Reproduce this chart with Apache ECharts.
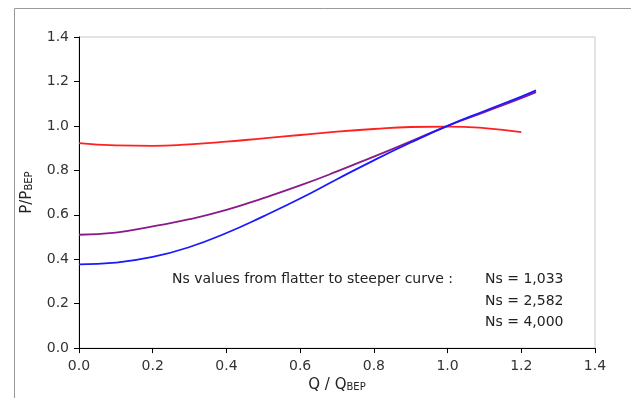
<!DOCTYPE html>
<html>
<head>
<meta charset="utf-8">
<script src="https://cdn.jsdelivr.net/npm/echarts@6/dist/echarts.min.js"></script>
<style>
html,body{margin:0;padding:0;background:#fff;}
#c{width:631px;height:398px;}
</style>
</head>
<body>
<div id="c"></div>
<script>
// Q/QBEP sample positions
const qRed = [0, 0.1, 0.2, 0.3, 0.4, 0.5, 0.6, 0.7, 0.8, 0.9, 1.0, 1.1, 1.2];
const qOther = [0, 0.1, 0.2, 0.3, 0.4, 0.5, 0.6, 0.7, 0.8, 0.9, 1.0, 1.1, 1.2, 1.24];
// P/PBEP values
const ns1033 = [0.922, 0.912, 0.910, 0.917, 0.929, 0.944, 0.959, 0.974, 0.986, 0.995, 0.997, 0.990, 0.972];
const ns2582 = [0.510, 0.520, 0.548, 0.580, 0.622, 0.675, 0.732, 0.795, 0.862, 0.930, 1.000, 1.062, 1.125, 1.152];
const ns4000 = [0.377, 0.385, 0.410, 0.455, 0.518, 0.593, 0.673, 0.760, 0.845, 0.925, 1.000, 1.067, 1.132, 1.160];
const xTicks = [0, 0.2, 0.4, 0.6, 0.8, 1.0, 1.2, 1.4];
const yTicks = [0, 0.2, 0.4, 0.6, 0.8, 1.0, 1.2, 1.4];
const nsLabels = ['Ns = 1,033', 'Ns = 2,582', 'Ns = 4,000'];
const noteText = 'Ns values from flatter to steeper curve :';

const pairs = (xs, ys) => xs.map((x, i) => [x, ys[i]]);
const FONT = 'DejaVu Sans';

const chart = echarts.init(document.getElementById('c'), null, {renderer: 'canvas'});
const axisCommon = {
  type: 'value',
  splitLine: {show: false},
  axisLine: {show: true, lineStyle: {color: '#000', width: 1}},
  axisTick: {show: true, length: 5, lineStyle: {color: '#000'}},
  axisLabel: {fontFamily: FONT, fontSize: 14, color: '#333', formatter: v => v.toFixed(1)}
};
const titleRich = {
  a: {fontFamily: FONT, fontSize: 15, color: '#222'},
  b: {fontFamily: FONT, fontSize: 10, color: '#222', padding: [4, 0, 0, 0]}
};
chart.setOption({
  animation: false,
  backgroundColor: '#fff',
  grid: {left: 79, top: 37, right: 36, bottom: 48, show: true, borderColor: '#c8c8c8', borderWidth: 1},
  xAxis: Object.assign({}, axisCommon, {
    min: xTicks[0], max: xTicks[xTicks.length - 1], interval: 0.2,
    name: '{a|Q / Q}{b|BEP}', nameLocation: 'middle', nameGap: 28,
    nameTextStyle: {rich: titleRich},
    axisLabel: Object.assign({}, axisCommon.axisLabel, {margin: 11})
  }),
  yAxis: Object.assign({}, axisCommon, {
    min: yTicks[0], max: yTicks[yTicks.length - 1], interval: 0.2,
    name: '{a|P/P}{b|BEP}', nameLocation: 'middle', nameGap: 44, nameRotate: 90,
    nameTextStyle: {rich: titleRich},
    axisLabel: Object.assign({}, axisCommon.axisLabel, {margin: 10})
  }),
  series: [
    {type: 'line', name: nsLabels[0], data: pairs(qRed, ns1033), smooth: true, showSymbol: false, symbol: 'none',
     lineStyle: {color: '#ff2020', width: 1.8}},
    {type: 'line', name: nsLabels[1], data: pairs(qOther, ns2582), smooth: true, showSymbol: false, symbol: 'none',
     lineStyle: {color: '#8a1a8a', width: 1.8}},
    {type: 'line', name: nsLabels[2], data: pairs(qOther, ns4000), smooth: true, showSymbol: false, symbol: 'none',
     lineStyle: {color: '#1a1aff', width: 1.8}}
  ],
  graphic: [
    {type: 'rect', left: 12, top: 6, shape: {width: 700, height: 500}, style: {fill: 'none', stroke: '#9a9a9a', lineWidth: 1}, silent: true, z: -1},
    {type: 'text', left: 172, top: 272, style: {text: noteText, font: '14px "DejaVu Sans"', fill: '#222'}},
    {type: 'text', left: 485, top: 272, style: {text: nsLabels[0], font: '14px "DejaVu Sans"', fill: '#222'}},
    {type: 'text', left: 485, top: 294, style: {text: nsLabels[1], font: '14px "DejaVu Sans"', fill: '#222'}},
    {type: 'text', left: 485, top: 315, style: {text: nsLabels[2], font: '14px "DejaVu Sans"', fill: '#222'}}
  ]
});
</script>
</body>
</html>
